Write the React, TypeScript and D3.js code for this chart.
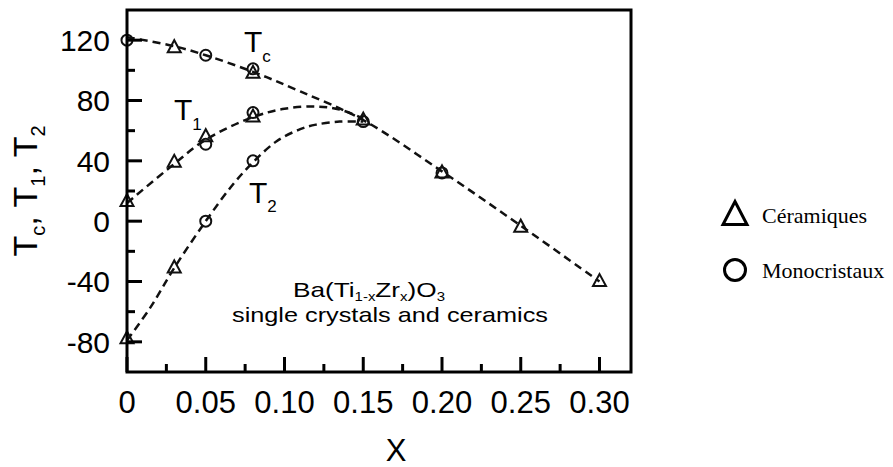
import React from "react";
import * as d3 from "d3";

// ---- Data ----
// Measured points: Céramiques (triangles)
const triTcX = [0.03, 0.08, 0.15, 0.2, 0.25, 0.3];
const triTcY = [116, 99, 68, 33, -3, -39];
const triT1X = [0, 0.03, 0.05, 0.08];
const triT1Y = [14, 40, 57, 70];
const triT2X = [0, 0.03];
const triT2Y = [-77, -30];

// Measured points: Monocristaux (circles)
const cirTcX = [0, 0.05, 0.08, 0.15, 0.2];
const cirTcY = [120, 110, 101, 66, 32];
const cirT1X = [0.05, 0.08];
const cirT1Y = [51, 72];
const cirT2X = [0.05, 0.08];
const cirT2Y = [0, 40];

// Dashed guide curves
const curveTcX = [0, 0.03, 0.05, 0.08, 0.11, 0.15, 0.2, 0.25, 0.3];
const curveTcY = [122, 116, 110, 99, 86, 67, 33, -3, -40];
const curveT1X = [0, 0.03, 0.05, 0.08, 0.1, 0.12, 0.135, 0.15];
const curveT1Y = [12, 38, 54, 69, 74.5, 76, 74, 68];
const curveT2X = [0, 0.015, 0.03, 0.05, 0.067, 0.08, 0.095, 0.11, 0.12, 0.135, 0.15];
const curveT2Y = [-79, -57, -31, 0, 24, 39, 53, 61, 64, 66, 66];

const xTicks = [0, 0.05, 0.1, 0.15, 0.2, 0.25, 0.3];
const xTickLabels = ["0", "0.05", "0.10", "0.15", "0.20", "0.25", "0.30"];
const xMinorTicks = [0.025, 0.075, 0.125, 0.175, 0.225, 0.275];
const yTicks = [-80, -40, 0, 40, 80, 120];
const yMinorTicks = [-60, -20, 20, 60, 100];

const legendLabels = ["Céramiques", "Monocristaux"];

const W = 893;
const H = 467;
const L = 127;
const R = 631;
const T = 10;
const B = 372;

const x = d3.scaleLinear().domain([0, 0.32]).range([L, R]);
const y = d3.scaleLinear().domain([-100, 140]).range([B, T]);

const sans = "'Liberation Sans', Arial, Helvetica, sans-serif";
const serif = "'Liberation Serif', 'Times New Roman', serif";

function triPath(cx: number, cy: number, w: number, h: number) {
  return `M${cx - w / 2},${cy + h / 2}L${cx + w / 2},${cy + h / 2}L${cx},${cy - h / 2}Z`;
}

function zip(xs: number[], ys: number[]): [number, number][] {
  return xs.map((v, i) => [v, ys[i]]);
}

export default function App() {
  const line = d3
    .line<[number, number]>()
    .x((d) => x(d[0]))
    .y((d) => y(d[1]))
    .curve(d3.curveCatmullRom.alpha(0.5));

  const curves = [
    zip(curveTcX, curveTcY),
    zip(curveT1X, curveT1Y),
    zip(curveT2X, curveT2Y),
  ];
  const tris = [
    ...zip(triTcX, triTcY),
    ...zip(triT1X, triT1Y),
    ...zip(triT2X, triT2Y),
  ];
  const cirs = [
    ...zip(cirTcX, cirTcY),
    ...zip(cirT1X, cirT1Y),
    ...zip(cirT2X, cirT2Y),
  ];

  return (
    <svg width={W} height={H} style={{ position: "absolute", left: 0, top: 0, background: "#fff" }}>
      <rect x={0} y={0} width={W} height={H} fill="#fff" />
      {/* curves */}
      {curves.map((c, i) => (
        <path
          key={"c" + i}
          d={line(c) || ""}
          fill="none"
          stroke="#111"
          strokeWidth={2.5}
          strokeDasharray="8,5"
        />
      ))}
      {/* markers */}
      {cirs.map((d, i) => (
        <circle key={"o" + i} cx={x(d[0])} cy={y(d[1])} r={5.5} fill="none" stroke="#111" strokeWidth={2} />
      ))}
      {tris.map((d, i) => (
        <path key={"t" + i} d={triPath(x(d[0]), y(d[1]), 13, 12)} fill="none" stroke="#111" strokeWidth={2} />
      ))}

      {/* frame */}
      <rect x={L} y={T} width={R - L} height={B - T} fill="none" stroke="#000" strokeWidth={3} />

      {/* y ticks */}
      {yTicks.map((v) => (
        <g key={"yt" + v}>
          <line x1={L} x2={L + 15} y1={y(v)} y2={y(v)} stroke="#000" strokeWidth={3} />
          <text x={110} y={y(v)} dy="0.36em" textAnchor="end" fontFamily={sans} fontSize={30} fill="#000">
            {v}
          </text>
        </g>
      ))}
      {yMinorTicks.map((v) => (
        <line key={"ym" + v} x1={L} x2={L + 8} y1={y(v)} y2={y(v)} stroke="#000" strokeWidth={3} />
      ))}

      {/* x ticks */}
      {xTicks.map((v, i) => (
        <g key={"xt" + v}>
          <line x1={x(v)} x2={x(v)} y1={B} y2={B - 15} stroke="#000" strokeWidth={3} />
          <text x={x(v)} y={413} textAnchor="middle" fontFamily={sans} fontSize={31} fill="#000">
            {xTickLabels[i]}
          </text>
        </g>
      ))}
      {xMinorTicks.map((v) => (
        <line key={"xm" + v} x1={x(v)} x2={x(v)} y1={B} y2={B - 8} stroke="#000" strokeWidth={3} />
      ))}

      {/* axis titles */}
      <text x={396} y={461} textAnchor="middle" fontFamily={sans} fontSize={31} fill="#000">
        X
      </text>
      <text
        transform="translate(37,191) rotate(-90)"
        textAnchor="middle"
        fontFamily={sans}
        fontSize={34}
        fill="#000"
      >
        T<tspan fontSize={20} dy={8}>c</tspan>
        <tspan dy={-8}>, T</tspan>
        <tspan fontSize={20} dy={8}>1</tspan>
        <tspan dy={-8}>, T</tspan>
        <tspan fontSize={20} dy={8}>2</tspan>
      </text>

      {/* curve annotations */}
      <text x={244} y={52} fontFamily={sans} fontSize={30} fill="#000">
        T<tspan fontSize={17} dy={10}>c</tspan>
      </text>
      <text x={174} y={120} fontFamily={sans} fontSize={30} fill="#000">
        T<tspan fontSize={17} dy={10}>1</tspan>
      </text>
      <text x={249} y={203} fontFamily={sans} fontSize={30} fill="#000">
        T<tspan fontSize={17} dy={9}>2</tspan>
      </text>

      {/* compound label */}
      <text x={293} y={297} fontFamily={sans} fontSize={21} fill="#000" textLength={152} lengthAdjust="spacingAndGlyphs">
        Ba(Ti<tspan fontSize={12} dy={4}>1-x</tspan>
        <tspan dy={-4}>Zr</tspan>
        <tspan fontSize={12} dy={4}>x</tspan>
        <tspan dy={-4}>)O</tspan>
        <tspan fontSize={12} dy={4}>3</tspan>
      </text>
      <text x={232} y={322} fontFamily={sans} fontSize={21} fill="#000" textLength={316} lengthAdjust="spacingAndGlyphs">
        single crystals and ceramics
      </text>

      {/* legend */}
      <path d={triPath(735, 213, 24, 23)} fill="none" stroke="#000" strokeWidth={3} />
      <text x={762} y={223} fontFamily={serif} fontSize={22} fill="#000">
        {legendLabels[0]}
      </text>
      <circle cx={735} cy={270} r={10.5} fill="none" stroke="#000" strokeWidth={3} />
      <text x={762} y={278} fontFamily={serif} fontSize={22} fill="#000">
        {legendLabels[1]}
      </text>
    </svg>
  );
}
